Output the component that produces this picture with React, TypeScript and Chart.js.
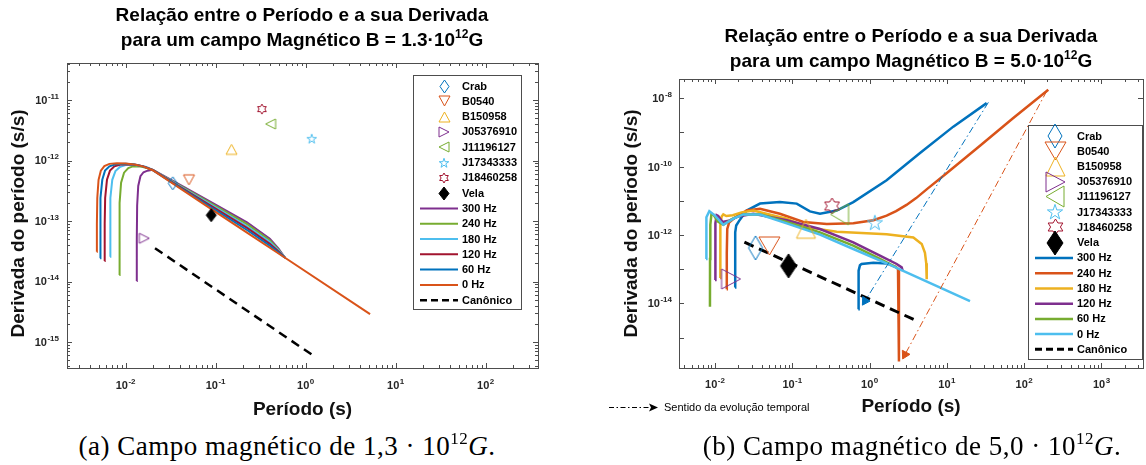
import React, { useEffect, useRef } from 'react';
import { Chart, registerables } from 'chart.js';

Chart.register(...registerables);

const FONT = '"Liberation Sans", Arial, Helvetica, sans-serif';

// ---------------- Pulsars (same observational points in both panels) ----------------
const PULSAR_NAMES = ['Crab', 'B0540', 'B150958', 'J05376910', 'J11196127', 'J17343333', 'J18460258', 'Vela'];
const PULSAR_PERIOD = [0.0334, 0.0505, 0.1502, 0.01612, 0.408, 1.169, 0.3266, 0.0893];
const PULSAR_PDOT = [4.2e-13, 4.79e-13, 1.53e-12, 5.18e-14, 4.02e-12, 2.28e-12, 7.08e-12, 1.25e-13];
const PULSAR_SHAPES = ['diamond', 'down', 'up', 'right', 'left', 'pentagram', 'hexagram', 'diamond'];
const PULSAR_COLORS = ['#0072BD', '#D95319', '#EDB120', '#7E2F8E', '#77AC30', '#4DBEEE', '#A2142F', '#000000'];

const CURVE_LABELS = ['300 Hz', '240 Hz', '180 Hz', '120 Hz', '60 Hz', '0 Hz'];
const CANON_LABEL = 'Canônico';
const SENTIDO_LABEL = 'Sentido da evolução temporal';

// ---------------- Panel (a): B = 1.3e12 G  [period (s), Pdot (s/s)] ----------------
const A_300 = [[0.01327, 1.02e-14], [0.0133, 5e-14], [0.01342, 1.8e-13], [0.0138, 3.8e-13], [0.0146, 5.5e-13], [0.0158, 6.4e-13], [0.0175, 6.8e-13], [0.02, 7.0e-13], [0.0336, 4.6e-13], [0.087, 2.1e-13], [0.223, 9.5e-14], [0.4, 5.1e-14], [0.5, 3.5e-14], [0.59, 2.47e-14]];
const A_240 = [[0.00851, 1.28e-14], [0.00853, 6e-14], [0.0086, 2.0e-13], [0.0089, 4.3e-13], [0.0096, 6.3e-13], [0.0107, 7.5e-13], [0.012, 8.0e-13], [0.014, 8.0e-13], [0.017, 7.6e-13], [0.02, 7.0e-13], [0.0336, 4.47e-13], [0.087, 2.0e-13], [0.223, 8.9e-14], [0.4, 4.8e-14], [0.5, 3.36e-14], [0.59, 2.47e-14]];
const A_180 = [[0.00671, 2.57e-14], [0.00673, 9e-14], [0.0068, 2.4e-13], [0.0071, 4.8e-13], [0.0077, 6.7e-13], [0.0087, 7.9e-13], [0.01, 8.4e-13], [0.012, 8.5e-13], [0.014, 8.3e-13], [0.017, 7.8e-13], [0.02, 7.0e-13], [0.0336, 4.39e-13], [0.087, 1.91e-13], [0.223, 8.2e-14], [0.4, 4.5e-14], [0.5, 3.25e-14], [0.59, 2.47e-14]];
const A_120 = [[0.00583, 2.18e-14], [0.00585, 9e-14], [0.00592, 2.4e-13], [0.0062, 4.8e-13], [0.0067, 6.8e-13], [0.0075, 8.0e-13], [0.0088, 8.6e-13], [0.0105, 8.7e-13], [0.013, 8.5e-13], [0.0158, 8.0e-13], [0.02, 7.0e-13], [0.0336, 4.3e-13], [0.087, 1.81e-13], [0.223, 7.7e-14], [0.4, 4.2e-14], [0.5, 3.13e-14], [0.59, 2.47e-14]];
const A_60 = [[0.0052, 2.42e-14], [0.00522, 9e-14], [0.00528, 2.4e-13], [0.0055, 4.8e-13], [0.0059, 6.8e-13], [0.0066, 8.0e-13], [0.0078, 8.7e-13], [0.01, 8.8e-13], [0.0125, 8.6e-13], [0.0155, 8.0e-13], [0.02, 6.95e-13], [0.0336, 4.22e-13], [0.087, 1.72e-13], [0.223, 7.1e-14], [0.4, 3.9e-14], [0.5, 3.0e-14], [0.59, 2.47e-14]];
const A_0 = [[0.00477, 3.1e-14], [0.00479, 9e-14], [0.00484, 2.4e-13], [0.005, 4.8e-13], [0.0053, 6.8e-13], [0.0058, 8.1e-13], [0.0066, 8.8e-13], [0.008, 9.0e-13], [0.01, 8.9e-13], [0.0125, 8.6e-13], [0.0155, 8.0e-13], [0.02, 6.9e-13], [0.0336, 4.14e-13], [0.087, 1.62e-13], [0.223, 6.44e-14], [0.4, 3.62e-14], [0.59, 2.47e-14], [5.2, 2.9e-15]];
const A_CANON = [[0.0212, 3.55e-14], [1.17, 6.2e-16]];
const A_X_RANGE = [0.00223, 382];
const A_Y_RANGE = [3.72e-16, 4.09e-11];

// ---------------- Panel (b): B = 5.0e12 G ----------------
const B_300 = [[0.01815, 2.9e-14], [0.0182, 3e-13], [0.0183, 1.2e-12], [0.0188, 1.9e-12], [0.0205, 2.6e-12], [0.0257, 5.2e-12], [0.0382, 8.3e-12], [0.069, 9.2e-12], [0.114, 8.3e-12], [0.169, 4.9e-12], [0.228, 4.2e-12], [0.375, 5.2e-12], [0.615, 9.2e-12], [1.66, 4.0e-11], [4.49, 2.5e-10], [12.1, 1.48e-9], [32.7, 7.2e-9]];
const B_300_TAIL = [[0.714, 6.7e-15], [0.718, 5e-14], [0.723, 9.1e-14], [0.75, 1.3e-13], [0.786, 1.42e-13], [1.12, 1.55e-13], [1.66, 1.48e-13]];
const B_240 = [[0.01416, 2.6e-14], [0.0142, 3e-13], [0.0144, 1.5e-12], [0.0152, 2.3e-12], [0.018, 3.2e-12], [0.0257, 5.2e-12], [0.0382, 5.9e-12], [0.069, 4.2e-12], [0.139, 2.4e-12], [0.279, 2.1e-12], [0.616, 2.2e-12], [1.12, 2.7e-12], [1.66, 3.7e-12], [2.2, 5.0e-12], [3.0, 7.6e-12], [4.0, 1.2e-11], [5.52, 2.2e-11], [10, 6.5e-11], [26.8, 4.1e-10], [71.6, 2.6e-9], [205, 1.78e-8]];
const B_240_TAIL = [[1.66, 1.48e-13], [2.2, 1.15e-13], [2.33, 1.0e-13], [2.39, 8e-14], [2.4, 3e-14], [2.4, 2e-16]];
const B_180 = [[0.0116, 5.5e-14], [0.01165, 4e-13], [0.0118, 2.0e-12], [0.0122, 3.5e-12], [0.0128, 4.0e-12], [0.014, 3.6e-12], [0.017, 3.8e-12], [0.022, 4.6e-12], [0.0313, 5.2e-12], [0.0847, 3.0e-12], [0.153, 1.7e-12], [0.375, 1.25e-12], [1.66, 1.05e-12], [3.68, 8.5e-13], [4.72, 5.5e-13], [5.2, 3.0e-13], [5.4, 1.5e-13], [5.48, 5.1e-14]];
const B_120 = [[0.01, 4.8e-14], [0.01003, 4e-13], [0.0102, 2.2e-12], [0.0105, 3.8e-12], [0.011, 3.6e-12], [0.0125, 2.4e-12], [0.015, 2.6e-12], [0.02, 3.5e-12], [0.0313, 4.2e-12], [0.0847, 2.7e-12], [0.228, 1.5e-12], [0.615, 6.1e-13], [1.36, 2.5e-13], [2.24, 1.42e-13], [2.6, 1.13e-13], [2.68, 9e-14]];
const B_60 = [[0.0086, 8.0e-15], [0.00862, 2e-13], [0.0087, 2.0e-12], [0.009, 4.2e-12], [0.0095, 4.0e-12], [0.0108, 2.5e-12], [0.0128, 2.0e-12], [0.017, 3.0e-12], [0.0232, 4.0e-12], [0.0382, 4.05e-12], [0.0847, 2.4e-12], [0.228, 1.2e-12], [0.615, 4.9e-13], [1.36, 2.0e-13], [2.24, 1.12e-13]];
const B_0 = [[0.00765, 2.0e-13], [0.00767, 1.0e-12], [0.0078, 3.3e-12], [0.00844, 5.0e-12], [0.01, 3.7e-12], [0.0128, 2.0e-12], [0.0173, 3.0e-12], [0.0232, 4.0e-12], [0.0382, 4.0e-12], [0.0847, 2.2e-12], [0.228, 1.03e-12], [0.615, 3.9e-13], [1.66, 1.48e-13], [19.9, 1.17e-14]];
const B_CANON = [[0.024, 6.2e-13], [4.06, 3.1e-15]];
const B_ARROW_300 = [[34.4, 7.6e-9], [0.873, 1.18e-14]];
const B_ARROW_240 = [[195, 1.6e-8], [2.87, 3.2e-16]];
const B_X_RANGE = [0.00342, 3443];
const B_Y_RANGE = [1.29e-16, 3.66e-8];

// ---------------- colours ----------------
const BLUE = '#0072BD', ORANGE = '#D95319', YELLOW = '#EDB120', PURPLE = '#7E2F8E', GREEN = '#77AC30', LBLUE = '#4DBEEE', DRED = '#A2142F';

function makeMarker(shape, w, h, stroke, fill) {
  const pad = 2;
  const c = document.createElement('canvas');
  c.width = Math.ceil(w + pad * 2);
  c.height = Math.ceil(h + pad * 2);
  const g = c.getContext('2d');
  const cx = c.width / 2, cy = c.height / 2, rx = w / 2, ry = h / 2;
  const pts = [];
  if (shape === 'diamond') pts.push([cx, cy - ry], [cx + rx, cy], [cx, cy + ry], [cx - rx, cy]);
  else if (shape === 'up') pts.push([cx, cy - ry], [cx + rx, cy + ry], [cx - rx, cy + ry]);
  else if (shape === 'down') pts.push([cx - rx, cy - ry], [cx + rx, cy - ry], [cx, cy + ry]);
  else if (shape === 'right') pts.push([cx - rx, cy - ry], [cx + rx, cy], [cx - rx, cy + ry]);
  else if (shape === 'left') pts.push([cx + rx, cy - ry], [cx - rx, cy], [cx + rx, cy + ry]);
  else if (shape === 'pentagram') {
    for (let i = 0; i < 10; i++) {
      const r = i % 2 === 0 ? 1 : 0.382;
      const a = -Math.PI / 2 + (i * Math.PI) / 5;
      pts.push([cx + rx * r * Math.cos(a), cy + 0.05 * ry + ry * r * Math.sin(a)]);
    }
  } else if (shape === 'hexagram') {
    for (let i = 0; i < 12; i++) {
      const r = i % 2 === 0 ? 1 : 0.577;
      const a = -Math.PI / 2 + (i * Math.PI) / 6;
      pts.push([cx + rx * r * Math.cos(a), cy + ry * r * Math.sin(a)]);
    }
  }
  g.beginPath();
  pts.forEach(([x, y], i) => (i === 0 ? g.moveTo(x, y) : g.lineTo(x, y)));
  g.closePath();
  if (fill) {
    g.fillStyle = fill;
    g.fill();
  }
  g.strokeStyle = stroke;
  g.lineWidth = 1;
  g.stroke();
  return c;
}

function toXY(arr) {
  return arr.map(([x, y]) => ({ x, y }));
}

function logTicks(min, max, minor) {
  const out = [];
  const e0 = Math.floor(Math.log10(min));
  const e1 = Math.ceil(Math.log10(max));
  for (let e = e0; e <= e1; e++) {
    for (let m = 1; m <= (minor ? 9 : 1); m++) {
      const v = m * Math.pow(10, e);
      if (v >= min * 0.999999 && v <= max * 1.000001) out.push({ v, major: m === 1, e });
    }
  }
  return out;
}

function drawPow(ctx, e, x, y, align, size, color) {
  const base = `bold ${size}px ${FONT}`;
  const sup = `bold ${Math.round(size * 0.73)}px ${FONT}`;
  ctx.font = base;
  const w1 = ctx.measureText('10').width;
  ctx.font = sup;
  const es = String(e);
  const w2 = ctx.measureText(es).width;
  const total = w1 + w2 + 0.5;
  const x0 = align === 'center' ? x - total / 2 : x - total;
  ctx.fillStyle = color;
  ctx.textAlign = 'left';
  ctx.textBaseline = 'alphabetic';
  ctx.font = base;
  ctx.fillText('10', x0, y + size * 0.36);
  ctx.font = sup;
  ctx.fillText(es, x0 + w1 + 0.5, y + size * 0.36 - size * 0.46);
}

const matlabAxes = {
  id: 'matlabAxes',
  afterDatasetsDraw(chart, _args, o) {
    const { ctx, chartArea: a } = chart;
    const xs = chart.scales.x, ys = chart.scales.y;
    ctx.save();
    ctx.strokeStyle = o.frameColor;
    ctx.lineWidth = 1;
    const xt = logTicks(xs.min, xs.max, o.xMinor);
    const yt = logTicks(ys.min, ys.max, o.yMinor);
    ctx.beginPath();
    for (const t of xt) {
      const px = Math.round(xs.getPixelForValue(t.v)) + 0.5;
      const len = t.major ? o.majorLen : o.minorLen;
      ctx.moveTo(px, a.bottom);
      ctx.lineTo(px, a.bottom - len);
      ctx.moveTo(px, a.top);
      ctx.lineTo(px, a.top + len);
    }
    for (const t of yt) {
      const py = Math.round(ys.getPixelForValue(t.v)) + 0.5;
      const len = t.major ? o.majorLen : o.minorLen;
      ctx.moveTo(a.left, py);
      ctx.lineTo(a.left + len, py);
      ctx.moveTo(a.right, py);
      ctx.lineTo(a.right - len, py);
    }
    ctx.stroke();
    ctx.strokeRect(Math.round(a.left) + 0.5, Math.round(a.top) + 0.5, Math.round(a.right - a.left), Math.round(a.bottom - a.top));
    for (const t of xt) {
      if (t.major) drawPow(ctx, t.e, xs.getPixelForValue(t.v), a.bottom + o.xLabelOffset, 'center', o.labelSize, o.labelColor);
    }
    for (const t of yt) {
      if (t.major && ((t.e % o.yLabelStep) + o.yLabelStep) % o.yLabelStep === 0)
        drawPow(ctx, t.e, a.left - o.yLabelGap, ys.getPixelForValue(t.v), 'right', o.labelSize, o.labelColor);
    }
    ctx.restore();
  },
  afterDraw(chart, _args, o) {
    const { ctx } = chart;
    const L = o.legend;
    ctx.save();
    ctx.fillStyle = '#ffffff';
    ctx.fillRect(L.x, L.y, L.w, L.h);
    ctx.strokeStyle = o.frameColor;
    ctx.lineWidth = 1;
    ctx.strokeRect(L.x + 0.5, L.y + 0.5, L.w, L.h);
    const items = chart.data.datasets.filter((d) => d.legendRank !== undefined).sort((p, q) => p.legendRank - q.legendRank);
    items.forEach((d, i) => {
      const cy = L.rowY0 + i * L.rowStep;
      if (d.legendImg) {
        ctx.drawImage(d.legendImg, Math.round(L.symX - d.legendImg.width / 2), Math.round(cy - d.legendImg.height / 2));
      } else {
        ctx.strokeStyle = d.borderColor;
        ctx.lineWidth = d.borderWidth;
        ctx.setLineDash(d.legendDash || []);
        ctx.beginPath();
        ctx.moveTo(L.lineX1, cy);
        ctx.lineTo(L.lineX2, cy);
        ctx.stroke();
        ctx.setLineDash([]);
      }
      ctx.fillStyle = '#000';
      ctx.font = L.font;
      ctx.textAlign = 'left';
      ctx.textBaseline = 'middle';
      ctx.fillText(d.label, L.textX, cy + 0.5);
    });
    if (o.sentido) {
      const s = o.sentido;
      ctx.strokeStyle = '#000';
      ctx.lineWidth = 1;
      ctx.setLineDash([5, 2.5, 1.5, 2.5]);
      ctx.beginPath();
      ctx.moveTo(s.x1, s.y + 0.5);
      ctx.lineTo(s.x2 - 6, s.y + 0.5);
      ctx.stroke();
      ctx.setLineDash([]);
      ctx.fillStyle = '#000';
      ctx.beginPath();
      ctx.moveTo(s.x2, s.y + 0.5);
      ctx.lineTo(s.x2 - 9, s.y - 3.5);
      ctx.lineTo(s.x2 - 7, s.y + 0.5);
      ctx.lineTo(s.x2 - 9, s.y + 4.5);
      ctx.closePath();
      ctx.fill();
      ctx.font = `11px ${FONT}`;
      ctx.textBaseline = 'middle';
      ctx.fillText(SENTIDO_LABEL, s.textX, s.y + 0.5);
    }
    ctx.restore();
  },
};

function lineDS(label, data, color, width, rank, order, extra = {}) {
  return {
    label,
    data: toXY(data),
    showLine: true,
    borderColor: color,
    backgroundColor: color,
    borderWidth: width,
    pointRadius: 0,
    pointHoverRadius: 0,
    tension: 0,
    legendRank: rank,
    order,
    ...extra,
  };
}

function markerDatasets(sizes) {
  return PULSAR_NAMES.map((name, i) => {
    const img = makeMarker(PULSAR_SHAPES[i], sizes[i][0], sizes[i][1], PULSAR_COLORS[i], i === 7 ? '#000' : null);
    return {
      label: name,
      data: [{ x: PULSAR_PERIOD[i], y: PULSAR_PDOT[i] }],
      showLine: false,
      pointStyle: img,
      pointRadius: 8,
      pointHoverRadius: 8,
      legendImg: img,
      legendRank: i,
      order: 0,
    };
  });
}

function baseOptions(p) {
  return {
    animation: false,
    responsive: false,
    events: [],
    layout: { autoPadding: false, padding: p.padding },
    plugins: {
      legend: { display: false },
      tooltip: { enabled: false },
      title: { display: false },
      matlabAxes: p.axes,
    },
    scales: {
      x: {
        type: 'logarithmic',
        min: p.xRange[0],
        max: p.xRange[1],
        grid: { display: false },
        border: { display: false },
        ticks: { display: false },
        title: { display: true, text: 'Período (s)', color: '#111', font: { family: FONT, size: 19, weight: 'bold' }, padding: { top: 0, bottom: p.xTitlePad } },
        afterFit: (s) => {
          s.height = p.xAxisH;
        },
      },
      y: {
        type: 'logarithmic',
        min: p.yRange[0],
        max: p.yRange[1],
        grid: { display: false },
        border: { display: false },
        ticks: { display: false },
        title: { display: true, text: p.yTitle, color: '#111', font: { family: FONT, size: 19, weight: 'bold' }, padding: { top: p.yTitlePad, bottom: 0 } },
        afterFit: (s) => {
          s.width = p.yAxisW;
        },
      },
    },
  };
}

function configA() {
  const datasets = [
    ...markerDatasets([[9, 13], [11, 10], [11, 10], [10, 10], [10, 10], [10, 10], [10, 10], [10, 13]]),
    lineDS(CURVE_LABELS[0], A_300, PURPLE, 2, 8, 20),
    lineDS(CURVE_LABELS[1], A_240, GREEN, 2, 9, 19),
    lineDS(CURVE_LABELS[2], A_180, LBLUE, 2, 10, 18),
    lineDS(CURVE_LABELS[3], A_120, DRED, 2, 11, 17),
    lineDS(CURVE_LABELS[4], A_60, BLUE, 2, 12, 16),
    lineDS(CURVE_LABELS[5], A_0, ORANGE, 2, 13, 15),
    lineDS(CANON_LABEL, A_CANON, '#000', 2.5, 14, 14, { borderDash: [9, 6], legendDash: [7, 4] }),
  ];
  return {
    type: 'scatter',
    data: { datasets },
    options: baseOptions({
      padding: { left: 0, top: 63, right: 42, bottom: 0 },
      xRange: A_X_RANGE,
      yRange: A_Y_RANGE,
      xAxisH: 62,
      yAxisW: 67,
      xTitlePad: 9,
      yTitlePad: 7,
      yTitle: 'Derivada do período (s/s)   ',
      axes: {
        frameColor: '#4d4d4d',
        labelColor: '#262626',
        labelSize: 11,
        majorLen: 5,
        minorLen: 3,
        xMinor: true,
        yMinor: true,
        xLabelOffset: 17,
        yLabelGap: 8,
        yLabelStep: 1,
        legend: { x: 413, y: 75, w: 108, h: 234, rowY0: 86, rowStep: 15.3, symX: 444, lineX1: 420, lineX2: 458, textX: 462, font: `bold 11px ${FONT}` },
      },
    }),
    plugins: [matlabAxes],
  };
}

function configB() {
  const dashDot = [7, 3, 1.5, 3];
  const datasets = [
    ...markerDatasets([[14, 24], [21, 18], [19, 19], [19, 20], [18, 21], [16, 16], [17, 16], [16, 24]]),
    {
      label: 'arrow300',
      data: toXY([B_ARROW_300[1]]),
      showLine: false,
      pointStyle: 'triangle',
      pointRotation: 212,
      pointRadius: 5,
      backgroundColor: BLUE,
      borderColor: BLUE,
      borderWidth: 1,
      order: 1,
    },
    {
      label: 'arrow240',
      data: toXY([B_ARROW_240[1]]),
      showLine: false,
      pointStyle: 'triangle',
      pointRotation: 208,
      pointRadius: 5,
      backgroundColor: ORANGE,
      borderColor: ORANGE,
      borderWidth: 1,
      order: 1,
    },
    lineDS('a300', B_ARROW_300, BLUE, 1, undefined, 2, { borderDash: dashDot }),
    lineDS('a240', B_ARROW_240, ORANGE, 1, undefined, 2, { borderDash: dashDot }),
    lineDS(CURVE_LABELS[0], B_300, BLUE, 2.5, 8, 20),
    lineDS('300b', B_300_TAIL, BLUE, 2.5, undefined, 20),
    lineDS(CURVE_LABELS[1], B_240, ORANGE, 2.5, 9, 19),
    lineDS('240b', B_240_TAIL, ORANGE, 2.5, undefined, 19),
    lineDS(CURVE_LABELS[2], B_180, YELLOW, 2.5, 10, 18),
    lineDS(CURVE_LABELS[3], B_120, PURPLE, 2.5, 11, 17),
    lineDS(CURVE_LABELS[4], B_60, GREEN, 2.5, 12, 16),
    lineDS(CURVE_LABELS[5], B_0, LBLUE, 2.5, 13, 15),
    lineDS(CANON_LABEL, B_CANON, '#000', 3, 14, 14, { borderDash: [10, 6], legendDash: [7, 4] }),
  ];
  return {
    type: 'scatter',
    data: { datasets },
    options: baseOptions({
      padding: { left: 0, top: 79, right: 3, bottom: 0 },
      xRange: B_X_RANGE,
      yRange: B_Y_RANGE,
      xAxisH: 62,
      yAxisW: 104,
      xTitlePad: 12,
      yTitlePad: 45,
      yTitle: 'Derivada do período (s/s)',
      axes: {
        frameColor: '#4d4d4d',
        labelColor: '#262626',
        labelSize: 11,
        majorLen: 5,
        minorLen: 3,
        xMinor: true,
        yMinor: false,
        xLabelOffset: 16,
        yLabelGap: 7,
        yLabelStep: 2,
        legend: { x: 453, y: 125, w: 114, h: 234, rowY0: 136, rowStep: 15.24, symX: 480, lineX1: 460, lineX2: 498, textX: 502, font: `bold 11px ${FONT}` },
        sentido: { x1: 34, x2: 83, y: 407, textX: 89 },
      },
    }),
    plugins: [matlabAxes],
  };
}

function ChartCanvas({ makeConfig, left, width, height }) {
  const ref = useRef(null);
  useEffect(() => {
    const chart = new Chart(ref.current, makeConfig());
    return () => chart.destroy();
  }, []);
  return <canvas ref={ref} width={width} height={height} style={{ position: 'absolute', left, top: 0, width, height }} />;
}

const titleStyle = {
  position: 'absolute',
  textAlign: 'center',
  font: `bold 19px ${FONT}`,
  lineHeight: '25px',
  color: '#000',
  whiteSpace: 'nowrap',
};
const supStyle = { fontSize: 12, position: 'relative', top: -8 };
const capStyle = {
  position: 'absolute',
  textAlign: 'center',
  font: '27px "Liberation Serif", "Times New Roman", serif',
  letterSpacing: '0.5px',
  lineHeight: '30px',
  color: '#000',
  whiteSpace: 'nowrap',
};
const capSup = { fontSize: 17, position: 'relative', top: -11 };

export default function App() {
  return (
    <div style={{ position: 'absolute', left: 0, top: 0, width: 1146, height: 465, background: '#fff', overflow: 'hidden' }}>
      <ChartCanvas makeConfig={configA} left={0} width={580} height={430} />
      <ChartCanvas makeConfig={configB} left={575} width={571} height={430} />
      <div style={{ ...titleStyle, left: 0, width: 604, top: 2 }}>
        <div>Relação entre o Período e a sua Derivada</div>
        <div>
          para um campo Magnético B = 1.3·10<span style={supStyle}>12</span>G
        </div>
      </div>
      <div style={{ ...titleStyle, left: 661, width: 500, top: 23 }}>
        <div>Relação entre o Período e a sua Derivada</div>
        <div>
          para um campo Magnético B = 5.0·10<span style={supStyle}>12</span>G
        </div>
      </div>
      <div style={{ ...capStyle, left: 0, width: 574, top: 431 }}>
        (a) Campo magnético de 1,3 · 10<span style={capSup}>12</span>
        <i>G</i>.
      </div>
      <div style={{ ...capStyle, left: 662, width: 500, top: 431 }}>
        (b) Campo magnético de 5,0 · 10<span style={capSup}>12</span>
        <i>G</i>.
      </div>
    </div>
  );
}
